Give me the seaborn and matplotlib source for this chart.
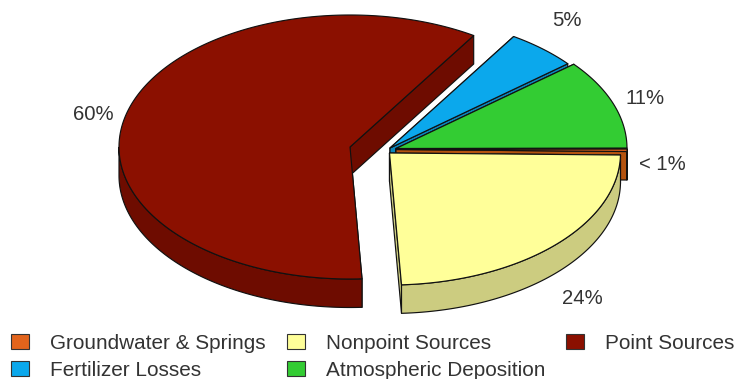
import numpy as np
import matplotlib
matplotlib.use("Agg")
import matplotlib.pyplot as plt
from matplotlib.patches import Patch, Polygon
import seaborn as sns

# Nutrient source shares, in drawing order (clockwise from 3 o'clock)
sources = ["Groundwater & Springs", "Nonpoint Sources", "Point Sources",
           "Fertilizer Losses", "Atmospheric Deposition"]
shares = [0.3, 24, 60, 5, 11]
share_labels = ["< 1%", "24%", "60%", "5%", "11%"]

# Legend runs column by column
legend_order = ["Groundwater & Springs", "Fertilizer Losses", "Nonpoint Sources",
                "Atmospheric Deposition", "Point Sources"]

top_colors = ["#E2641C", "#FFFF99", "#8B1000", "#0BA8EC", "#33CC33"]
side_colors = ["#B4530F", "#CCCC80", "#6E0C00", "#0A86BC", "#29A329"]

# Pie geometry in figure pixels
CENTER = np.array([390.0, 150.0])
RX, RY, DEPTH = 231.0, 132.0, 28.5
START_ANGLE = 0.2
explode = [(6, -0.5), (-0.5, 3), (-40, -3), (0, -2), (6, -1.5)]
label_xy = [(662, 165), (582, 299), (93, 114), (567, 21), (645, 99)]
paint_order = [2, 3, 4, 0, 1]

sns.set_theme(style="white")
plt.rcParams["font.family"] = ["Liberation Sans", "DejaVu Sans"]

fig = plt.figure(figsize=(7.38, 3.79), dpi=100)
ax = fig.add_axes([0, 0, 1, 1])
ax.set_xlim(0, 738)
ax.set_ylim(379, 0)
sns.despine(ax=ax, left=True, bottom=True, top=True, right=True)
ax.set_xticks([])
ax.set_yticks([])

fractions = np.asarray(shares, dtype=float) / np.sum(shares)
sweeps = fractions * 360.0
ends = START_ANGLE - np.cumsum(sweeps)
starts = ends + sweeps

EDGE = dict(edgecolor="#111111", linewidth=0.85, joinstyle="round")


def rim(apex, a_from, a_to, dy=0.0):
    """Points along the elliptical rim between two angles."""
    t = np.radians(np.linspace(a_from, a_to, max(3, int(abs(a_to - a_from) * 2))))
    return np.column_stack([apex[0] + RX * np.cos(t), apex[1] - RY * np.sin(t) + dy])


for layer, i in enumerate(paint_order):
    apex = CENTER + np.array(explode[i], dtype=float)
    a0, a1 = starts[i], ends[i]
    down = np.array([0.0, DEPTH])

    # Cut faces of the wedge
    for a in (a0, a1):
        tip = rim(apex, a, a)[0]
        ax.add_patch(Polygon([apex, tip, tip + down, apex + down], closed=True,
                             facecolor=side_colors[i], zorder=1 + layer * 3, **EDGE))

    # Outer wall, only where the rim faces the viewer
    t = np.radians(np.linspace(a1, a0, 720))
    facing = np.sin(t) < 0
    if facing.any():
        lo, hi = np.degrees(t[facing][0]), np.degrees(t[facing][-1])
        upper = rim(apex, lo, hi)
        lower = rim(apex, hi, lo, DEPTH)
        ax.add_patch(Polygon(np.vstack([upper, lower]), closed=True,
                             facecolor=side_colors[i], zorder=2 + layer * 3, **EDGE))

    # Top surface
    ax.add_patch(Polygon(np.vstack([apex, rim(apex, a0, a1)]), closed=True,
                         facecolor=top_colors[i], zorder=3 + layer * 3, **EDGE))

for text, (x, y) in zip(share_labels, label_xy):
    ax.text(x, y, text, ha="center", va="center", fontsize=14.6, color="#333333")

handles = [Patch(facecolor=top_colors[sources.index(name)], edgecolor="#333333",
                 linewidth=0.8, label=name) for name in legend_order]
ax.legend(handles=handles, ncol=3, loc="lower left", bbox_to_anchor=(11 / 738, -1 / 379),
          frameon=False, fontsize=14.95, labelcolor="#333333",
          handlelength=0.875, handleheight=0.75, handletextpad=1.0,
          columnspacing=1.02, labelspacing=0.4, borderpad=0, borderaxespad=0)

fig.savefig("out.png", dpi=100, facecolor="white")
